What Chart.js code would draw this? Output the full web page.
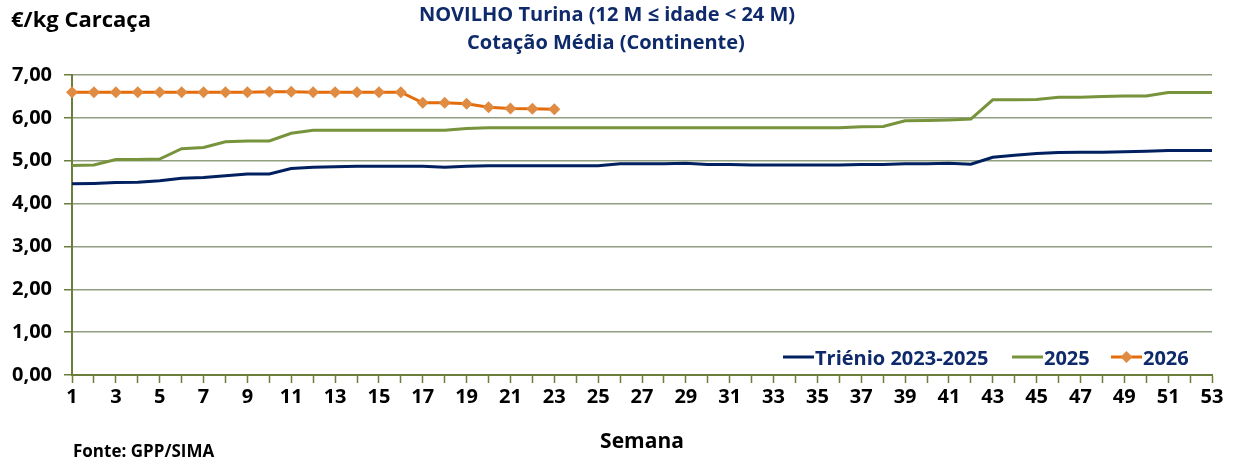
<!DOCTYPE html>
<html>
<head>
<meta charset="utf-8">
<script src="https://cdn.jsdelivr.net/npm/chart.js@4.4.1/dist/chart.umd.min.js"></script>
<style>
  html, body { margin: 0; padding: 0; background: #fff; }
  #wrap { position: relative; width: 1238px; height: 461px; }
</style>
</head>
<body>
<div id="wrap"><canvas id="cotacaoChart" width="1238" height="461"></canvas></div>
<script>
// semanas 1..53
const semanas = ['1','2','3','4','5','6','7','8','9','10','11','12','13','14','15','16','17','18','19','20',
  '21','22','23','24','25','26','27','28','29','30','31','32','33','34','35','36','37','38','39','40',
  '41','42','43','44','45','46','47','48','49','50','51','52','53'];

const trienio = [4.46, 4.47, 4.49, 4.50, 4.53, 4.59, 4.61, 4.65, 4.69, 4.69,
  4.82, 4.85, 4.86, 4.87, 4.87, 4.87, 4.87, 4.85, 4.87, 4.88,
  4.88, 4.88, 4.88, 4.88, 4.88, 4.93, 4.93, 4.93, 4.94, 4.91,
  4.91, 4.90, 4.90, 4.90, 4.90, 4.90, 4.91, 4.91, 4.93, 4.93,
  4.94, 4.92, 5.08, 5.13, 5.17, 5.19, 5.20, 5.20, 5.21, 5.22,
  5.24, 5.24, 5.24];

const ano2025 = [4.89, 4.90, 5.03, 5.03, 5.04, 5.28, 5.31, 5.44, 5.46, 5.46,
  5.64, 5.71, 5.71, 5.71, 5.71, 5.71, 5.71, 5.71, 5.75, 5.77,
  5.77, 5.77, 5.77, 5.77, 5.77, 5.77, 5.77, 5.77, 5.77, 5.77,
  5.77, 5.77, 5.77, 5.77, 5.77, 5.77, 5.79, 5.80, 5.93, 5.94,
  5.95, 5.97, 6.42, 6.42, 6.43, 6.48, 6.48, 6.50, 6.51, 6.51,
  6.59, 6.59, 6.59];

const ano2026 = [6.60, 6.60, 6.60, 6.60, 6.60, 6.60, 6.60, 6.60, 6.60, 6.61,
  6.61, 6.60, 6.60, 6.60, 6.60, 6.60, 6.35, 6.35, 6.33, 6.25,
  6.22, 6.21, 6.20];

const NAVY = '#0E2A6B';
const AXIS = '#6B7D3A';
const GRID = '#929E80';
const FONT = '"Open Sans", sans-serif';

// textos fixos: títulos, unidade, fonte, legenda
const extrasPlugin = {
    id: 'extras',
    afterDraw(chart) {
        const ctx = chart.ctx;
        ctx.save();
        ctx.textBaseline = 'alphabetic';

        ctx.fillStyle = NAVY;
        ctx.textAlign = 'center';
        ctx.font = 'bold 20px ' + FONT;
        ctx.fillText('NOVILHO Turina (12 M ≤ idade < 24 M)', 607, 21);
        ctx.fillText('Cotação Média (Continente)', 606, 49);

        ctx.fillStyle = '#000';
        ctx.textAlign = 'left';
        ctx.font = 'bold 22px ' + FONT;
        ctx.fillText('€/kg Carcaça', 11, 27);

        ctx.font = 'bold 17px ' + FONT;
        ctx.fillText('Fonte: GPP/SIMA', 73, 457);

        ctx.textAlign = 'center';
        ctx.font = 'bold 21px ' + FONT;
        ctx.fillText('Semana', 642, 448);

        // legenda dentro da área do gráfico
        const y = 357;
        const items = [
            { label: 'Triénio 2023-2025', color: '#002060', x: 783 },
            { label: '2025', color: '#77933C', x: 1012 },
            { label: '2026', color: '#E46C0A', x: 1111, marker: '#E08B42' }
        ];
        ctx.font = 'bold 20px ' + FONT;
        ctx.textAlign = 'left';
        items.forEach(it => {
            ctx.strokeStyle = it.color;
            ctx.lineWidth = 3;
            ctx.beginPath();
            ctx.moveTo(it.x, y);
            ctx.lineTo(it.x + 31, y);
            ctx.stroke();
            if (it.marker) {
                const cx = it.x + 15.5;
                ctx.fillStyle = it.marker;
                ctx.beginPath();
                ctx.moveTo(cx, y - 6);
                ctx.lineTo(cx + 6, y);
                ctx.lineTo(cx, y + 6);
                ctx.lineTo(cx - 6, y);
                ctx.closePath();
                ctx.fill();
            }
            ctx.fillStyle = NAVY;
            ctx.fillText(it.label, it.x + 32, y + 8);
        });
        ctx.restore();
    }
};

const ctx = document.getElementById('cotacaoChart').getContext('2d');
new Chart(ctx, {
    type: 'line',
    data: {
        labels: semanas,
        datasets: [
            {
                label: '2026',
                data: ano2026,
                borderColor: '#E46C0A',
                backgroundColor: '#E08B42',
                borderWidth: 3,
                pointStyle: 'rectRot',
                pointRadius: 6,
                pointBorderWidth: 0,
                pointBackgroundColor: '#E08B42',
                tension: 0,
                order: 0
            },
            {
                label: '2025',
                data: ano2025,
                borderColor: '#77933C',
                borderWidth: 3,
                pointRadius: 0,
                tension: 0,
                order: 1
            },
            {
                label: 'Triénio 2023-2025',
                data: trienio,
                borderColor: '#002060',
                borderWidth: 3,
                pointRadius: 0,
                tension: 0,
                order: 2
            }
        ]
    },
    options: {
        responsive: false,
        animation: false,
        events: [],
        layout: { padding: { left: 0, right: 26, top: 75, bottom: 0 } },
        plugins: {
            legend: { display: false },
            title: { display: false },
            tooltip: { enabled: false }
        },
        scales: {
            y: {
                min: 0,
                max: 7,
                afterFit(scale) { scale.width = 72; },
                ticks: {
                    stepSize: 1,
                    padding: 12,
                    color: '#000',
                    font: { family: FONT, size: 20, weight: 'bold' },
                    callback: v => v.toFixed(2).replace('.', ',')
                },
                grid: { color: GRID, lineWidth: 1.5, tickLength: 8, tickColor: AXIS, tickWidth: 1.5 },
                border: { color: AXIS, width: 2 }
            },
            x: {
                offset: false,
                afterFit(scale) { scale.height = 86; },
                ticks: {
                    autoSkip: false,
                    maxRotation: 0,
                    padding: 2,
                    color: '#000',
                    font: { family: FONT, size: 20, weight: 'bold' },
                    callback: function (v, i) { return i % 2 === 0 ? this.getLabelForValue(v) : ''; }
                },
                grid: { drawOnChartArea: false, tickLength: 8, tickColor: AXIS, tickWidth: 1.5 },
                border: { color: AXIS, width: 2 }
            }
        }
    },
    plugins: [extrasPlugin]
});
</script>
</body>
</html>
